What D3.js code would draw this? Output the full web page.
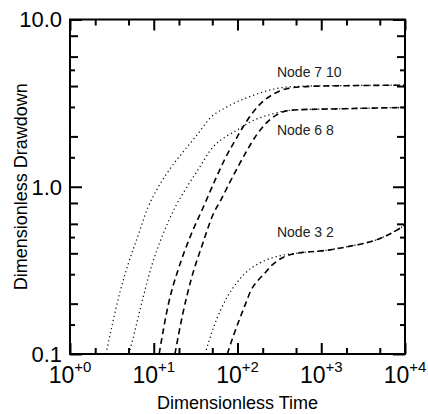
<!DOCTYPE html>
<html><head><meta charset="utf-8">
<script src="https://cdn.jsdelivr.net/npm/d3@7"></script>
<style>
body{margin:0;background:#fff}
svg{display:block}
text{font-family:"Liberation Sans",Arial,Helvetica,sans-serif;fill:#000}
</style>
</head><body>
<svg id="chart" width="428" height="414"></svg>
<script>
// ---------- data ----------
const xMajorTicks = [1, 10, 100, 1000, 10000];
const xMajorExponents = ["+0", "+1", "+2", "+3", "+4"];
const xMinorTicks = [2, 5, 20, 50, 200, 500, 2000, 5000];
const yLabelTicks = [0.1, 1, 10];
const yTickLabels = ["0.1", "1.0", "10.0"];
const yMediumTicks = [0.2, 0.4, 0.6, 0.8, 2, 4, 6, 8];
const yShortTicks = [0.15, 0.3, 0.5, 1.5, 3, 5];

const xTitle = "Dimensionless Time";
const yTitle = "Dimensionless Drawdown";

const nodeLabels = ["Node 7 10", "Node 6 8", "Node 3 2"];
const nodeLabelT = [296, 296, 296];
const nodeLabelS = [4.53, 2.04, 0.50];

// Node 7 10
const node710Dotted = [[2.69,0.10],[3.2,0.15],[4,0.24],[5,0.35],[6.5,0.51],[8.5,0.75],[11,0.97],[14.3,1.2],[21.6,1.58],[32.6,2.03],[48,2.6],[70,2.95],[91,3.16],[157,3.53],[273,3.84],[400,3.95],[700,4.0],[1500,4.02],[4000,4.04],[10000,4.05]];
const node710Dashed = [[11.6,0.10],[15,0.2],[20,0.33],[28,0.52],[39,0.754],[52,1.05],[70,1.45],[100,2.0],[131,2.5],[190,3.15],[273,3.6],[400,3.87],[600,3.96],[1000,4.0],[2000,4.02],[5000,4.04],[10000,4.05]];
// Node 6 8
const node68Dotted = [[5.07,0.10],[6,0.14],[7.5,0.22],[9.5,0.34],[12.5,0.5],[17.9,0.75],[25,1.0],[35,1.3],[51,1.73],[70,1.97],[91,2.13],[157,2.5],[273,2.74],[376,2.85],[700,2.9],[2000,2.93],[5000,2.96],[10000,2.98]];
const node68Dashed = [[17.9,0.10],[22,0.17],[28,0.28],[38,0.45],[51.4,0.687],[63,0.83],[80,1.05],[100,1.3],[130,1.65],[170,2.05],[220,2.4],[290,2.68],[380,2.84],[550,2.89],[1000,2.91],[2000,2.93],[5000,2.96],[10000,2.98]];
// Node 3 2
const node32Dotted = [[41,0.10],[52,0.145],[75,0.218],[100,0.27],[120,0.30],[190,0.353],[330,0.388],[500,0.40],[1080,0.415],[2050,0.438],[3000,0.455],[4270,0.476],[6000,0.51],[8000,0.55],[10000,0.59]];
const node32Dashed = [[75.5,0.10],[90,0.13],[104,0.158],[125,0.2],[144,0.239],[175,0.275],[207,0.30],[250,0.335],[300,0.361],[430,0.393],[600,0.405],[1080,0.415],[2050,0.438],[3000,0.455],[4270,0.476],[6000,0.51],[8000,0.55],[10000,0.59]];

const dottedSeries = [node710Dotted, node68Dotted, node32Dotted];
const dashedSeries = [node710Dashed, node68Dashed, node32Dashed];

// ---------- layout ----------
const L = 70, R = 405, T = 19.5, B = 354;
const svg = d3.select("#chart");
const x = d3.scaleLog().domain([1, 10000]).range([L, R]);
const y = d3.scaleLog().domain([0.1, 10]).range([B, T]);

svg.append("defs").append("clipPath").attr("id", "clip")
  .append("rect").attr("x", L).attr("y", T).attr("width", R - L).attr("height", B - T);

const line = d3.line().x(d => x(d[0])).y(d => y(d[1])).curve(d3.curveMonotoneX);
const plot = svg.append("g").attr("clip-path", "url(#clip)");

plot.selectAll("path.dotted").data(dottedSeries).join("path")
  .attr("class", "dotted").attr("d", line)
  .attr("fill", "none").attr("stroke", "#000").attr("stroke-width", 1.2)
  .attr("stroke-dasharray", "1.2,3");
plot.selectAll("path.dashed").data(dashedSeries).join("path")
  .attr("class", "dashed").attr("d", line)
  .attr("fill", "none").attr("stroke", "#000").attr("stroke-width", 1.6)
  .attr("stroke-dasharray", "6,4");

// ---------- axes (ticks inward) ----------
function styleAxis(g) {
  g.select(".domain").remove();
  g.selectAll(".tick line").attr("stroke", "#000").attr("stroke-width", 2);
  g.selectAll(".tick text").remove();
}
function addAxis(maker, scale, values, size, tx, ty) {
  svg.append("g").attr("transform", `translate(${tx},${ty})`)
    .call(maker(scale).tickValues(values).tickSize(size).tickFormat(""))
    .call(styleAxis);
}
// bottom & top
addAxis(d3.axisBottom, x, xMajorTicks, -11, 0, B);
addAxis(d3.axisBottom, x, xMinorTicks, -6, 0, B);
addAxis(d3.axisTop, x, xMajorTicks, -11, 0, T);
addAxis(d3.axisTop, x, xMinorTicks, -6, 0, T);
// left & right
addAxis(d3.axisLeft, y, yLabelTicks, -12, L, 0);
addAxis(d3.axisLeft, y, yMediumTicks, -8, L, 0);
addAxis(d3.axisLeft, y, yShortTicks, -5, L, 0);
addAxis(d3.axisRight, y, yLabelTicks, -12, R, 0);
addAxis(d3.axisRight, y, yMediumTicks, -8, R, 0);
addAxis(d3.axisRight, y, yShortTicks, -5, R, 0);

// frame
svg.append("rect").attr("x", L).attr("y", T).attr("width", R - L).attr("height", B - T)
  .attr("fill", "none").attr("stroke", "#000").attr("stroke-width", 2);

// y tick labels
svg.selectAll("text.ylab").data(yLabelTicks).join("text")
  .attr("class", "ylab")
  .attr("x", L - 8).attr("y", d => y(d)).attr("dy", "0.36em")
  .attr("text-anchor", "end").attr("font-size", 22)
  .text((d, i) => yTickLabels[i]);

// x tick labels with superscript exponents
const xl = svg.selectAll("text.xlab").data(xMajorTicks).join("text")
  .attr("class", "xlab")
  .attr("x", d => x(d)).attr("y", 383)
  .attr("text-anchor", "middle");
xl.append("tspan").attr("font-size", 23).text("10");
xl.append("tspan").attr("font-size", 15).attr("dy", -11).text((d, i) => xMajorExponents[i]);

// axis titles
svg.append("text").attr("x", (L + R) / 2).attr("y", 409)
  .attr("text-anchor", "middle").attr("font-size", 18).text(xTitle);
svg.append("text").attr("transform", `translate(27,${(T + B) / 2}) rotate(-90)`)
  .attr("text-anchor", "middle").attr("font-size", 18).text(yTitle);

// node labels
svg.selectAll("text.node").data(nodeLabels).join("text")
  .attr("class", "node")
  .attr("x", (d, i) => x(nodeLabelT[i])).attr("y", (d, i) => y(nodeLabelS[i]))
  .attr("font-size", 14).style("fill", "#222")
  .text(d => d);
</script>
</body></html>
